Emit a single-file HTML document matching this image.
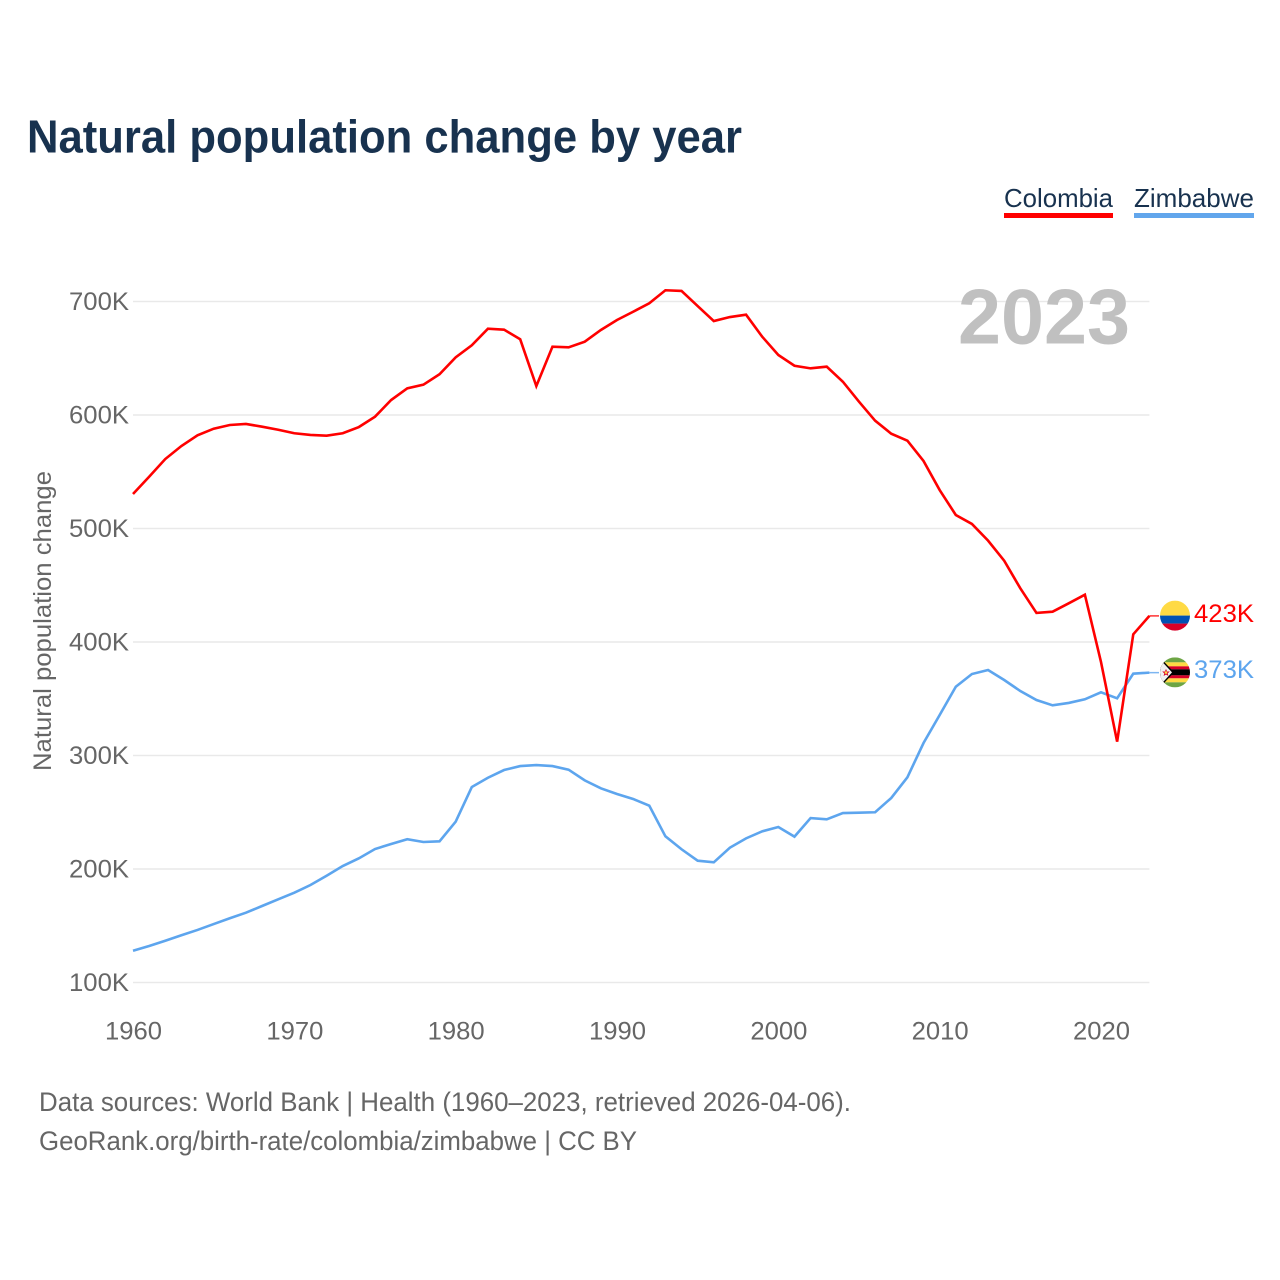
<!DOCTYPE html>
<html lang="en">
<head>
<meta charset="utf-8">
<title>Natural population change by year</title>
<style>
html,body{margin:0;padding:0;background:#fff;}
#chart{display:block;width:1280px;height:1280px;font-family:"Liberation Sans",sans-serif;}
</style>
</head>
<body>
<svg id="chart" xmlns="http://www.w3.org/2000/svg" width="1280" height="1280" viewBox="0 0 1280 1280">
  <defs>
    <clipPath id="flag-clip"><circle cx="0" cy="0" r="15"></circle></clipPath>
  </defs>
  <rect width="1280" height="1280" fill="#fff"></rect>
  <text x="27" y="152.5" font-size="46" font-weight="700" fill="#18324f" textLength="715" lengthAdjust="spacingAndGlyphs">Natural population change by year</text>

  <g>
    <text x="1004" y="207" font-size="26" fill="#18324f" textLength="109" lengthAdjust="spacingAndGlyphs">Colombia</text>
    <rect x="1004" y="213" width="109" height="5" fill="#ff0000"></rect>
  </g>
  <g>
    <text x="1134" y="207" font-size="26" fill="#18324f" textLength="120" lengthAdjust="spacingAndGlyphs">Zimbabwe</text>
    <rect x="1134" y="213" width="120" height="5" fill="#62a6ec"></rect>
  </g>

  <text transform="translate(51,621) rotate(-90)" text-anchor="middle" font-size="25" fill="#666666" textLength="300" lengthAdjust="spacingAndGlyphs">Natural population change</text>

  <g id="grid-layer"></g>
  <g id="y-tick-layer"></g>
  <g id="x-tick-layer"></g>

  <text x="958" y="343.5" font-size="78" font-weight="700" fill="#c0c0c0" textLength="172" lengthAdjust="spacingAndGlyphs">2023</text>

  <g id="series-layer"></g>

  <g id="flag-colombia">
    <g clip-path="url(#flag-clip)">
      <rect x="-15" y="-15" width="30" height="15" fill="#ffda44"></rect>
      <rect x="-15" y="0" width="30" height="8" fill="#0052b4"></rect>
      <rect x="-15" y="8" width="30" height="8" fill="#d80027"></rect>
    </g>
  </g>
  <g id="flag-zimbabwe">
    <g clip-path="url(#flag-clip)">
      <rect x="-15" y="-15" width="30" height="30" fill="#f0f0f0"></rect>
      <rect x="-15" y="-15" width="30" height="5" fill="#6da544"></rect>
      <rect x="-15" y="-10" width="30" height="4" fill="#ffda44"></rect>
      <rect x="-15" y="-6" width="30" height="3" fill="#d80027"></rect>
      <rect x="-15" y="-3" width="30" height="6" fill="#000000"></rect>
      <rect x="-15" y="3" width="30" height="3" fill="#d80027"></rect>
      <rect x="-15" y="6" width="30" height="4" fill="#ffda44"></rect>
      <rect x="-15" y="10" width="30" height="5" fill="#6da544"></rect>
      <polygon points="-15,-15 -1,0 -15,15" fill="#000000"></polygon>
      <polygon points="-15,-13 -3,0 -15,13" fill="#f0f0f0"></polygon>
      <polygon points="-9,-3.5 -7.9,-0.8 -5.2,-0.8 -7.3,1 -6.6,3.6 -9,2.1 -11.4,3.6 -10.7,1 -12.8,-0.8 -10.1,-0.8" fill="#d80027"></polygon>
      <circle cx="-9" cy="0.2" r="1.3" fill="#ffda44"></circle>
    </g>
  </g>

  <text x="39" y="1111" font-size="27" fill="#666666" textLength="812" lengthAdjust="spacingAndGlyphs">Data sources: World Bank | Health (1960–2023, retrieved 2026-04-06).</text>
  <text x="39" y="1150" font-size="27" fill="#666666" textLength="598" lengthAdjust="spacingAndGlyphs">GeoRank.org/birth-rate/colombia/zimbabwe | CC BY</text>
</svg>
<script>
const startYear = 1960;
const endYear = 2023;
const yTicks = [100, 200, 300, 400, 500, 600, 700];
const yTickLabels = ["100K", "200K", "300K", "400K", "500K", "600K", "700K"];
const xTicks = [1960, 1970, 1980, 1990, 2000, 2010, 2020];
const xTickLabels = ["1960", "1970", "1980", "1990", "2000", "2010", "2020"];
const colombiaValues = [530.4,545.6,561.2,572.7,582.1,587.9,591.2,592.1,589.7,587,583.9,582.4,581.8,583.9,589.4,598.5,613.2,623.5,626.7,635.9,650.8,661.4,676,675.2,666.7,625.5,660.2,659.6,664.6,674.9,683.7,691,698.4,709.9,709.3,696,682.8,686.3,688.4,669,652.9,643.4,641.1,642.6,629.3,611.7,595,583.5,577.4,559.5,533.9,511.9,504,489.3,471.6,447.3,425.6,426.7,434.1,441.7,382.4,312.2,406.8,423];
const zimbabweValues = [128,132.2,136.8,141.6,146.3,151.5,156.6,161.5,167.4,173.3,179.1,185.9,194.1,202.6,209.4,217.6,222,226.2,223.8,224.4,241.7,272.2,280.4,287.2,290.7,291.6,290.7,287.5,278.1,271.1,266.1,261.7,255.8,228.8,217.4,207.3,205.9,218.8,227,233.2,237,228.5,244.9,243.8,249.3,249.6,250,262.6,280.8,311,335.7,360.6,371.8,375.3,366.5,356.8,348.9,344.2,346.3,349.5,355.7,350.4,372.1,373];

const NS = "http://www.w3.org/2000/svg";
const PLOT_LEFT = 133;
const PLOT_RIGHT = 1149.4;
const Y_100K = 982.5;
const Y_700K = 301.5;
const FLAG_X = 1175;

function xScale(year) {
  return PLOT_LEFT + (year - startYear) * (PLOT_RIGHT - PLOT_LEFT) / (endYear - startYear);
}
function yScale(value) {
  return Y_100K - (value - 100) * (Y_100K - Y_700K) / 600;
}
function make(tag, attrs, text) {
  const node = document.createElementNS(NS, tag);
  for (const key in attrs) node.setAttribute(key, attrs[key]);
  if (text) node.textContent = text;
  return node;
}
function formatK(value) {
  return Math.round(value) + "K";
}

const gridLayer = document.getElementById("grid-layer");
const yTickLayer = document.getElementById("y-tick-layer");
const xTickLayer = document.getElementById("x-tick-layer");
const seriesLayer = document.getElementById("series-layer");

yTicks.forEach(function (tick, i) {
  const line = make("line", {x1: PLOT_LEFT, x2: PLOT_RIGHT, y1: yScale(tick), y2: yScale(tick), stroke: "#e9e9e9", "stroke-width": 1.4});
  
  
  gridLayer.appendChild(line);

  const label = make("text", {x: 129, y: yScale(tick) + 8.5, "text-anchor": "end", "font-size": 25, fill: "#666666", textLength: 60, lengthAdjust: "spacingAndGlyphs"}, yTickLabels[i]);
  
  
  yTickLayer.appendChild(label);
});

xTicks.forEach(function (tick, i) {
  const label = make("text", {x: xScale(tick) + 0.5, y: 1039.5, "text-anchor": "middle", "font-size": 25, fill: "#666666", textLength: 57, lengthAdjust: "spacingAndGlyphs"}, xTickLabels[i]);
  
  
  xTickLayer.appendChild(label);
});

function drawSeries(values, color, seriesName, flagId, labelY) {
  const points = values.map(function (value, i) {
    return xScale(startYear + i).toFixed(2) + "," + yScale(value).toFixed(2);
  }).join(" ");
  const last = values[values.length - 1];

  const connector = make("line", {x1: PLOT_RIGHT, x2: FLAG_X - 16, y1: yScale(last), y2: yScale(last), stroke: color, "stroke-width": 1.5, opacity: 0.8});
  
  
  seriesLayer.appendChild(connector);

  const line = make("polyline", {points: points, fill: "none", stroke: color, "stroke-width": 2.6, "stroke-linejoin": "miter"});
  
  
  seriesLayer.appendChild(line);

  document.getElementById(flagId).setAttribute("transform", "translate(" + FLAG_X + "," + (yScale(last) - 0.3) + ")");

  const valueLabel = make("text", {x: 1194, y: yScale(last) + labelY, "font-size": 25, fill: color, textLength: 60, lengthAdjust: "spacingAndGlyphs"}, formatK(last));
  
  
  seriesLayer.appendChild(valueLabel);
}

drawSeries(zimbabweValues, "#5da5ee", "zimbabwe", "flag-zimbabwe", 5.5);
drawSeries(colombiaValues, "#ff0000", "colombia", "flag-colombia", 6);
</script>
</body>
</html>
